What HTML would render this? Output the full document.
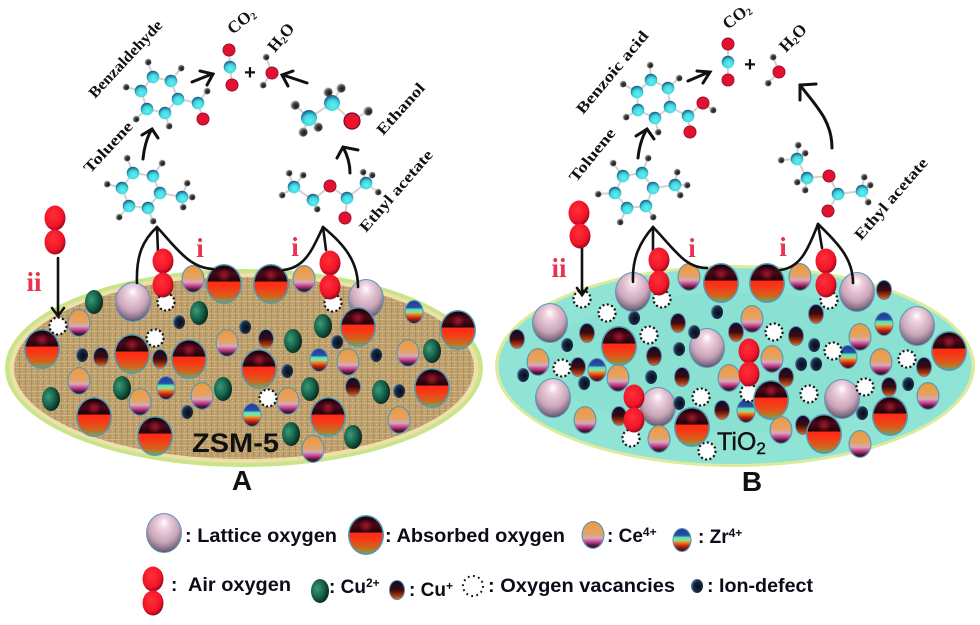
<!DOCTYPE html>
<html lang="en">
<head>
<meta charset="utf-8">
<title>ZSM-5 and TiO2 catalytic oxidation diagram</title>
<style>
html,body{margin:0;padding:0;background:#fff;width:980px;height:625px;overflow:hidden}
svg{display:block;filter:blur(.35px)}
.s{font-family:"Liberation Serif",serif;font-weight:bold;font-size:15.5px;fill:#111}
.f{font-size:17px}
.l{font-family:"Liberation Sans",sans-serif;font-weight:bold;font-size:19px;fill:#0c0c18}
.r{font-family:"Liberation Serif",serif;font-weight:bold;font-size:27px;fill:#ea3350}
.b line,.b path{stroke:#d2d2d2;stroke-width:2;fill:none}
.a path{stroke:#111;stroke-width:3;fill:none;stroke-linecap:round;stroke-linejoin:miter}
.k path{stroke:#111;stroke-width:2.6;fill:none;stroke-linecap:round}
</style>
</head>
<body>
<svg width="980" height="625" viewBox="0 0 980 625" xmlns="http://www.w3.org/2000/svg">
<defs>
<pattern id="tex" width="6" height="6" patternUnits="userSpaceOnUse">
<rect width="6" height="6" fill="#bd9f6c"/>
<path d="M0 1.5H6" stroke="#d2b888" stroke-width="1"/>
<path d="M1.5 0V6" stroke="#a3875a" stroke-width="1" opacity=".6"/>
<rect x="4" y="4" width="1" height="1" fill="#dcc79e"/>
</pattern>
<linearGradient id="ga" x1="0" y1="0" x2="0" y2="1">
<stop offset="0" stop-color="#160006"/><stop offset=".22" stop-color="#4e0818"/><stop offset=".43" stop-color="#1c0206"/>
<stop offset=".44" stop-color="#ff2a14"/><stop offset=".62" stop-color="#f63a16"/><stop offset=".84" stop-color="#d0641e"/><stop offset=".95" stop-color="#a08c3a"/><stop offset="1" stop-color="#5fa486"/>
</linearGradient>
<radialGradient id="gs" cx=".5" cy=".5" r=".5"><stop offset="0" stop-color="#a0182c"/><stop offset="1" stop-color="#a0182c" stop-opacity="0"/></radialGradient>
<radialGradient id="gl" cx=".48" cy=".35" r=".68" fx=".5" fy=".22">
<stop offset="0" stop-color="#fff"/><stop offset=".22" stop-color="#efd3df"/><stop offset=".65" stop-color="#c9a4b8"/><stop offset=".9" stop-color="#7b6a80"/><stop offset="1" stop-color="#453c55"/>
</radialGradient>
<linearGradient id="gc" x1="0" y1="0" x2="0" y2="1">
<stop offset="0" stop-color="#ee9a3c"/><stop offset=".48" stop-color="#e2a468"/><stop offset=".62" stop-color="#d8a9bc"/><stop offset=".78" stop-color="#c03a8a"/><stop offset=".9" stop-color="#5b1838"/><stop offset="1" stop-color="#221522"/>
</linearGradient>
<linearGradient id="gz" x1="0" y1="0" x2="0" y2="1">
<stop offset="0" stop-color="#1e3a9a"/><stop offset=".3" stop-color="#2a50a8"/><stop offset=".38" stop-color="#58e4b4"/><stop offset=".52" stop-color="#8ce0a0"/><stop offset=".58" stop-color="#f09a2c"/><stop offset=".78" stop-color="#c42414"/><stop offset="1" stop-color="#2c1010"/>
</linearGradient>
<radialGradient id="gg" cx=".35" cy=".4" r=".7"><stop offset="0" stop-color="#3a9a78"/><stop offset=".55" stop-color="#156048"/><stop offset="1" stop-color="#04201a"/></radialGradient>
<linearGradient id="gm" x1="0" y1="0" x2="0" y2="1"><stop offset="0" stop-color="#0c0c2c"/><stop offset=".5" stop-color="#3c0a10"/><stop offset=".85" stop-color="#b03c10"/><stop offset="1" stop-color="#d87020"/></linearGradient>
<radialGradient id="gd" cx=".6" cy=".55" r=".6"><stop offset="0" stop-color="#050a18"/><stop offset=".7" stop-color="#1a2c48"/><stop offset="1" stop-color="#5a90b4"/></radialGradient>
<radialGradient id="gr" cx=".42" cy=".38" r=".65"><stop offset="0" stop-color="#ff3038"/><stop offset=".7" stop-color="#f01428"/><stop offset="1" stop-color="#8c0818"/></radialGradient>
<radialGradient id="gh" cx=".62" cy=".6" r=".65"><stop offset="0" stop-color="#151515"/><stop offset=".55" stop-color="#4a4a4a"/><stop offset="1" stop-color="#d8d8d8"/></radialGradient>
<radialGradient id="gt" cx=".55" cy=".68" r=".68"><stop offset="0" stop-color="#5ff0ee"/><stop offset=".55" stop-color="#42d6e0"/><stop offset="1" stop-color="#15507c"/></radialGradient>
<g id="A"><ellipse rx="18" ry="20" fill="#4f9ab4"/><ellipse rx="16.5" ry="18.5" fill="url(#ga)"/><ellipse cy="-9" rx="7" ry="7" fill="url(#gs)"/></g>
<g id="L"><ellipse rx="18" ry="20" fill="#5a98b8"/><ellipse rx="17" ry="19" fill="url(#gl)"/></g>
<g id="C"><ellipse rx="11.5" ry="14" fill="#5a98b8"/><ellipse rx="10.3" ry="12.8" fill="url(#gc)"/></g>
<g id="Z"><ellipse rx="9.5" ry="12" fill="#5a8cb0"/><ellipse rx="8.5" ry="11" fill="url(#gz)"/></g>
<g id="G"><ellipse rx="9" ry="12" fill="url(#gg)"/></g>
<g id="M"><ellipse rx="8" ry="10" fill="#5a8cb0"/><ellipse rx="7" ry="9" fill="url(#gm)"/></g>
<g id="D"><ellipse rx="6" ry="7" fill="url(#gd)"/></g>
<g id="V"><circle r="8.5" fill="#fff" stroke="#111" stroke-width="2.2" stroke-dasharray="2 2.4"/></g>
<g id="R"><ellipse rx="10.5" ry="12.5" fill="url(#gr)"/></g>
<g id="h"><circle r="3.4" fill="url(#gh)"/></g>
<g id="c"><circle r="6.3" fill="url(#gt)"/></g>
<g id="o"><circle r="6" fill="#e41030" stroke="#98142c" stroke-width="1"/></g>
<g id="C2"><circle r="8" fill="url(#gt)"/></g>
<g id="O2"><circle r="8" fill="#ea1430" stroke="#661020" stroke-width="1.2"/></g>
<g id="h2"><circle r="4.6" fill="url(#gh)"/></g>
</defs>

<rect width="980" height="625" fill="#fff"/>

<!-- Supports -->
<ellipse cx="244" cy="368" rx="239" ry="99" fill="#c9e58c"/>
<ellipse cx="244" cy="368" rx="234.5" ry="95" fill="#efdfa9"/>
<ellipse cx="244" cy="368" rx="230" ry="91" fill="url(#tex)"/>
<ellipse cx="735" cy="366" rx="240" ry="101" fill="#dcec9c"/>
<ellipse cx="735" cy="366" rx="236.5" ry="98" fill="#90e4d5"/>
<ellipse cx="735" cy="362" rx="190" ry="70" fill="#8ae1d2"/>

<!-- ZSM-5 atoms -->
<g>
<use href="#L" x="133" y="302"/><use href="#L" x="366" y="299"/>
<use href="#A" x="224" y="284"/><use href="#A" x="271" y="284"/><use href="#A" x="42" y="349"/><use href="#A" x="132" y="354"/><use href="#A" x="189" y="359"/><use href="#A" x="259" y="369"/><use href="#A" x="358" y="327"/><use href="#A" x="458" y="330"/><use href="#A" x="432" y="388"/><use href="#A" x="94" y="417"/><use href="#A" x="155" y="436"/><use href="#A" x="328" y="417"/>
<use href="#C" x="193" y="279"/><use href="#C" x="304" y="279"/><use href="#C" x="79" y="323"/><use href="#C" x="227" y="343"/><use href="#C" x="348" y="362"/><use href="#C" x="408" y="353"/><use href="#C" x="79" y="381"/><use href="#C" x="140" y="402"/><use href="#C" x="202" y="396"/><use href="#C" x="288" y="401"/><use href="#C" x="399" y="420"/><use href="#C" x="313" y="449"/>
<use href="#Z" x="414" y="312"/><use href="#Z" x="319" y="360"/><use href="#Z" x="166" y="388"/><use href="#Z" x="252" y="415"/>
<use href="#G" x="94" y="302"/><use href="#G" x="199" y="313"/><use href="#G" x="323" y="326"/><use href="#G" x="293" y="341"/><use href="#G" x="432" y="351"/><use href="#G" x="122" y="388"/><use href="#G" x="223" y="389"/><use href="#G" x="310" y="389"/><use href="#G" x="381" y="392"/><use href="#G" x="51" y="399"/><use href="#G" x="291" y="434"/><use href="#G" x="353" y="437"/>
<use href="#M" x="101" y="357"/><use href="#M" x="160" y="359"/><use href="#M" x="266" y="339"/><use href="#M" x="353" y="387"/>
<use href="#D" x="179" y="322"/><use href="#D" x="245" y="327"/><use href="#D" x="337" y="342"/><use href="#D" x="82" y="355"/><use href="#D" x="376" y="355"/><use href="#D" x="287" y="371"/><use href="#D" x="399" y="391"/><use href="#D" x="187" y="412"/>
<use href="#V" x="58" y="326"/><use href="#V" x="155" y="338"/><use href="#V" x="268" y="398"/><use href="#V" x="166" y="302"/><use href="#V" x="333" y="303"/>
</g>

<!-- TiO2 atoms -->
<g>
<use href="#L" x="633" y="292"/><use href="#L" x="857" y="292"/><use href="#L" x="550" y="323"/><use href="#L" x="917" y="326"/><use href="#L" x="707" y="348"/><use href="#L" x="553" y="398"/><use href="#L" x="658" y="407"/><use href="#L" x="842" y="399"/>
<use href="#C" x="689" y="277"/><use href="#C" x="800" y="277"/><use href="#C" x="752" y="319"/><use href="#C" x="860" y="337"/><use href="#C" x="772" y="359"/><use href="#C" x="538" y="362"/><use href="#C" x="881" y="362"/><use href="#C" x="618" y="378"/><use href="#C" x="729" y="378"/><use href="#C" x="928" y="396"/><use href="#C" x="585" y="420"/><use href="#C" x="781" y="430"/><use href="#C" x="659" y="439"/><use href="#C" x="860" y="444"/>
<use href="#Z" x="884" y="324"/><use href="#Z" x="597" y="370"/><use href="#Z" x="848" y="357"/><use href="#Z" x="746" y="411"/>
<use href="#M" x="517" y="339"/><use href="#M" x="587" y="333"/><use href="#M" x="678" y="323"/><use href="#M" x="736" y="332"/><use href="#M" x="816" y="314"/><use href="#M" x="796" y="336"/><use href="#M" x="884" y="290"/><use href="#M" x="654" y="356"/><use href="#M" x="578" y="367"/><use href="#M" x="924" y="367"/><use href="#M" x="682" y="377"/><use href="#M" x="786" y="377"/><use href="#M" x="889" y="387"/><use href="#M" x="722" y="410"/><use href="#M" x="619" y="416"/><use href="#M" x="803" y="425"/>
<use href="#D" x="634" y="318"/><use href="#D" x="717" y="312"/><use href="#D" x="694" y="332"/><use href="#D" x="567" y="345"/><use href="#D" x="679" y="349"/><use href="#D" x="814" y="345"/><use href="#D" x="801" y="364"/><use href="#D" x="816" y="364"/><use href="#D" x="523" y="375"/><use href="#D" x="584" y="383"/><use href="#D" x="651" y="377"/><use href="#D" x="908" y="384"/><use href="#D" x="679" y="403"/><use href="#D" x="862" y="413"/>
<use href="#V" x="582" y="299"/><use href="#V" x="607" y="313"/><use href="#V" x="649" y="335"/><use href="#V" x="774" y="332"/><use href="#V" x="833" y="351"/><use href="#V" x="907" y="359"/><use href="#V" x="562" y="368"/><use href="#V" x="701" y="397"/><use href="#V" x="809" y="394"/><use href="#V" x="865" y="387"/><use href="#V" x="749" y="393"/><use href="#V" x="631" y="438"/><use href="#V" x="707" y="451"/><use href="#V" x="662" y="299"/><use href="#V" x="829" y="300"/>
<use href="#A" x="721" y="283"/><use href="#A" x="767" y="283"/><use href="#A" x="619" y="346"/><use href="#A" x="949" y="351"/><use href="#A" x="771" y="400"/><use href="#A" x="692" y="427"/><use href="#A" x="890" y="416"/><use href="#A" x="824" y="434"/>
</g>

<!-- Connectors -->
<g class="k">
<path d="M157 227C143 240 136 255 137 283"/><path d="M157 227L158 252"/><path d="M157 227C178 250 190 268 213 269"/>
<path d="M323 227C312 250 305 268 283 270"/><path d="M323 227L326 250"/><path d="M323 227C345 245 358 262 358 287"/>
<path d="M653 227C640 242 632 258 633 282"/><path d="M653 227L653 250"/><path d="M653 227C675 250 685 268 707 268"/>
<path d="M818 224C808 250 800 268 780 270"/><path d="M818 224L822 248"/><path d="M818 224C840 245 853 260 853 283"/>
<path d="M58 258V316"/><path d="M52 308L58 316L64 308"/>
<path d="M582 245V295"/><path d="M577 288L582 295L587 288"/>
</g>

<!-- Air oxygen -->
<use href="#R" x="55" y="218"/><use href="#R" x="55" y="242"/>
<use href="#R" x="163" y="261"/><use href="#R" x="163" y="285"/>
<use href="#R" x="330" y="263"/><use href="#R" x="330" y="287"/>
<use href="#R" x="579" y="213"/><use href="#R" x="580" y="236"/>
<use href="#R" x="659" y="260"/><use href="#R" x="659" y="283"/>
<use href="#R" x="826" y="261"/><use href="#R" x="826" y="285"/>
<use href="#R" x="749" y="351"/><use href="#R" x="749" y="374"/>
<use href="#R" x="634" y="397"/><use href="#R" x="634" y="420"/>

<!-- Bonds -->
<g class="b">
<path d="M153 77L171 81L178 99L165 113L147 109L141 91Z"/><path d="M178 99L198 103L203 119M198 103L207 91M153 77L148 62M171 81L181 68M141 91L126 87M147 109L136 119M165 113L169 126"/>
<path d="M133 173L153 176L160 193L148 208L129 206L122 188Z"/><path d="M160 193L182 197L187 183M182 197L192 197M182 197L183 207M133 173L127 158M153 176L162 163M122 188L107 184M129 206L119 217M148 208L153 221"/>
<path d="M229 50L230 67L232 85M266 57L272 73L263 85"/>
<path d="M295 105L309 118L332 103L352 121L368 111M332 103L328 92M332 103L341 88M309 118L318 127M309 118L303 132"/>
<path d="M289 173L294 187L313 200L330 186L347 198L366 183L363 172M366 183L372 175M366 183L378 192M347 198L345 218M294 187L282 195M313 200L317 209M294 187L303 175"/>
<path d="M651 80L668 88L670 107L655 118L638 110L637 92Z"/><path d="M670 107L688 116L703 103L713 110M688 116L690 132M651 80L650 65M668 88L679 78M637 92L623 84M638 110L626 117M655 118L658 132"/>
<path d="M623 176L642 173L653 188L646 206L627 208L615 193Z"/><path d="M653 188L675 185L677 172M675 185L687 185M675 185L680 195M623 176L613 163M642 173L648 158M615 193L598 194M627 208L620 222M646 206L653 217"/>
<path d="M728 44V80M773 57L779 72L768 83"/>
<path d="M797 159L807 178L829 176L838 194L862 191L864 177M862 191L870 185M862 191L868 202M838 194L828 211M797 159L798 145M797 159L805 153M797 159L781 160M807 178L797 182M807 178L805 190"/>
</g>

<!-- Molecules -->
<g>
<use href="#h" x="148" y="62"/><use href="#h" x="181" y="68"/><use href="#h" x="126" y="87"/><use href="#h" x="207" y="91"/><use href="#h" x="136" y="119"/><use href="#h" x="169" y="126"/>
<use href="#c" x="153" y="77"/><use href="#c" x="171" y="81"/><use href="#c" x="178" y="99"/><use href="#c" x="165" y="113"/><use href="#c" x="147" y="109"/><use href="#c" x="141" y="91"/><use href="#c" x="198" y="103"/><use href="#o" x="203" y="119"/>
<use href="#h" x="127" y="158"/><use href="#h" x="162" y="163"/><use href="#h" x="107" y="184"/><use href="#h" x="187" y="183"/><use href="#h" x="192" y="197"/><use href="#h" x="183" y="207"/><use href="#h" x="119" y="217"/><use href="#h" x="153" y="221"/>
<use href="#c" x="133" y="173"/><use href="#c" x="153" y="176"/><use href="#c" x="160" y="193"/><use href="#c" x="148" y="208"/><use href="#c" x="129" y="206"/><use href="#c" x="122" y="188"/><use href="#c" x="182" y="197"/>
<use href="#o" x="229" y="50"/><use href="#c" x="230" y="67"/><use href="#o" x="232" y="85"/>
<use href="#h" x="266" y="57"/><use href="#h" x="263" y="85"/><use href="#o" x="272" y="73"/>
<use href="#h2" x="295" y="105"/><use href="#h2" x="328" y="92"/><use href="#h2" x="341" y="88"/><use href="#h2" x="368" y="111"/><use href="#h2" x="318" y="127"/><use href="#h2" x="303" y="132"/>
<use href="#C2" x="309" y="118"/><use href="#C2" x="332" y="103"/><use href="#O2" x="352" y="121"/>
<use href="#h" x="289" y="173"/><use href="#h" x="303" y="175"/><use href="#h" x="282" y="195"/><use href="#h" x="317" y="209"/><use href="#h" x="363" y="172"/><use href="#h" x="372" y="175"/><use href="#h" x="378" y="192"/>
<use href="#c" x="294" y="187"/><use href="#c" x="313" y="200"/><use href="#c" x="347" y="198"/><use href="#c" x="366" y="183"/><use href="#o" x="330" y="186"/><use href="#o" x="345" y="218"/>

<use href="#h" x="650" y="65"/><use href="#h" x="679" y="78"/><use href="#h" x="623" y="84"/><use href="#h" x="626" y="117"/><use href="#h" x="713" y="110"/><use href="#h" x="658" y="132"/>
<use href="#c" x="651" y="80"/><use href="#c" x="668" y="88"/><use href="#c" x="670" y="107"/><use href="#c" x="655" y="118"/><use href="#c" x="638" y="110"/><use href="#c" x="637" y="92"/><use href="#c" x="688" y="116"/><use href="#o" x="703" y="103"/><use href="#o" x="690" y="132"/>
<use href="#h" x="613" y="163"/><use href="#h" x="648" y="158"/><use href="#h" x="598" y="194"/><use href="#h" x="677" y="172"/><use href="#h" x="687" y="185"/><use href="#h" x="680" y="195"/><use href="#h" x="620" y="222"/><use href="#h" x="653" y="217"/>
<use href="#c" x="623" y="176"/><use href="#c" x="642" y="173"/><use href="#c" x="653" y="188"/><use href="#c" x="646" y="206"/><use href="#c" x="627" y="208"/><use href="#c" x="615" y="193"/><use href="#c" x="675" y="185"/>
<use href="#o" x="728" y="44"/><use href="#c" x="728" y="62"/><use href="#o" x="728" y="80"/>
<use href="#h" x="773" y="57"/><use href="#h" x="768" y="83"/><use href="#o" x="779" y="72"/>
<use href="#h" x="798" y="145"/><use href="#h" x="805" y="153"/><use href="#h" x="781" y="160"/><use href="#h" x="797" y="182"/><use href="#h" x="805" y="190"/><use href="#h" x="864" y="177"/><use href="#h" x="870" y="185"/><use href="#h" x="868" y="202"/>
<use href="#c" x="797" y="159"/><use href="#c" x="807" y="178"/><use href="#c" x="838" y="194"/><use href="#c" x="862" y="191"/><use href="#o" x="829" y="176"/><use href="#o" x="828" y="211"/>
</g>

<!-- Reaction arrows -->
<g class="a">
<path d="M192 82L212 74M200 71L213 74L207 85"/>
<path d="M307 83L283 75M293 71L282 75L288 86"/>
<path d="M143 159Q145 140 152 129M142 135L152 129L158 138"/>
<path d="M350 173Q350 160 343 147M337 158L343 147L358 150"/>
<path d="M688 81L709 72M697 71L710 72L703 83"/>
<path d="M638 158Q640 140 647 129M636 136L647 129L654 139"/>
<path d="M832 148C832 120 815 105 800 85M800 100L800 85L816 84"/>
</g>

<text x="250" y="79" text-anchor="middle" font-family="Liberation Sans,sans-serif" font-weight="bold" font-size="20" fill="#111">+</text>
<text x="750" y="71" text-anchor="middle" font-family="Liberation Sans,sans-serif" font-weight="bold" font-size="20" fill="#111">+</text>

<!-- Rotated labels -->
<text class="s" transform="translate(95 99) rotate(-47)" textLength="100" lengthAdjust="spacingAndGlyphs">Benzaldehyde</text>
<text class="s" transform="translate(90 174) rotate(-47)" textLength="64" lengthAdjust="spacingAndGlyphs">Toluene</text>
<text class="s f" transform="translate(233 35) rotate(-40)">CO<tspan font-size="10" dy="2">2</tspan></text>
<text class="s f" transform="translate(275 53) rotate(-50)">H<tspan font-size="10" dy="2">2</tspan><tspan dy="-2">O</tspan></text>
<text class="s" transform="translate(383 136) rotate(-48)" textLength="64" lengthAdjust="spacingAndGlyphs">Ethanol</text>
<text class="s" transform="translate(366 233) rotate(-49)" textLength="103" lengthAdjust="spacingAndGlyphs">Ethyl acetate</text>
<text class="s" transform="translate(583 115) rotate(-50)" textLength="103" lengthAdjust="spacingAndGlyphs">Benzoic acid</text>
<text class="s" transform="translate(576 183) rotate(-51)" textLength="64" lengthAdjust="spacingAndGlyphs">Toluene</text>
<text class="s f" transform="translate(728 30) rotate(-38)">CO<tspan font-size="10" dy="2">2</tspan></text>
<text class="s f" transform="translate(786 53) rotate(-46)">H<tspan font-size="10" dy="2">2</tspan><tspan dy="-2">O</tspan></text>
<text class="s" transform="translate(861 241) rotate(-49)" textLength="103" lengthAdjust="spacingAndGlyphs">Ethyl acetate</text>

<!-- Red labels -->
<text class="r" x="200" y="257" text-anchor="middle">i</text>
<text class="r" x="295" y="256" text-anchor="middle">i</text>
<text class="r" x="34" y="291" text-anchor="middle">ii</text>
<text class="r" x="692" y="257" text-anchor="middle">i</text>
<text class="r" x="783" y="256" text-anchor="middle">i</text>
<text class="r" x="559" y="277" text-anchor="middle">ii</text>

<!-- Panel labels -->
<text x="192" y="452" font-family="Liberation Sans,sans-serif" font-weight="bold" font-size="27" fill="#111" textLength="87" lengthAdjust="spacingAndGlyphs">ZSM-5</text>
<text x="717" y="450" font-family="Liberation Sans,sans-serif" font-size="25" fill="#111" stroke="#111" stroke-width=".4">TiO<tspan font-size="17" dy="4">2</tspan></text>
<text x="242" y="490" text-anchor="middle" font-family="Liberation Sans,sans-serif" font-weight="bold" font-size="28" fill="#111">A</text>
<text x="752" y="491" text-anchor="middle" font-family="Liberation Sans,sans-serif" font-weight="bold" font-size="28" fill="#111">B</text>

<!-- Legend -->
<use href="#L" x="164" y="533"/>
<text class="l" x="185" y="542" textLength="152" lengthAdjust="spacingAndGlyphs">: Lattice oxygen</text>
<use href="#A" x="366" y="535"/>
<text class="l" x="385" y="542" textLength="180" lengthAdjust="spacingAndGlyphs">: Absorbed oxygen</text>
<use href="#C" x="593" y="535"/>
<text class="l" x="607" y="542">: Ce<tspan font-size="12" dy="-6">4+</tspan></text>
<use href="#Z" x="682" y="540"/>
<text class="l" x="698" y="543">: Zr<tspan font-size="12" dy="-6">4+</tspan></text>
<use href="#R" x="153" y="579"/><use href="#R" x="153" y="603"/>
<text class="l" x="171" y="591">:</text>
<text class="l" x="188" y="591" textLength="103" lengthAdjust="spacingAndGlyphs">Air oxygen</text>
<use href="#G" x="320" y="591"/>
<text class="l" x="329" y="593">: Cu<tspan font-size="12" dy="-6">2+</tspan></text>
<use href="#M" x="397" y="590"/>
<text class="l" x="409" y="596">: Cu<tspan font-size="12" dy="-6">+</tspan></text>
<circle cx="473" cy="586" r="10" fill="#fff" stroke="#111" stroke-width="2" stroke-dasharray="1.8 3.4"/>
<text class="l" x="488" y="592" textLength="187" lengthAdjust="spacingAndGlyphs">: Oxygen vacancies</text>
<use href="#D" x="697" y="586"/>
<text class="l" x="707" y="592" textLength="106" lengthAdjust="spacingAndGlyphs">: Ion-defect</text>
</svg>
</body>
</html>
